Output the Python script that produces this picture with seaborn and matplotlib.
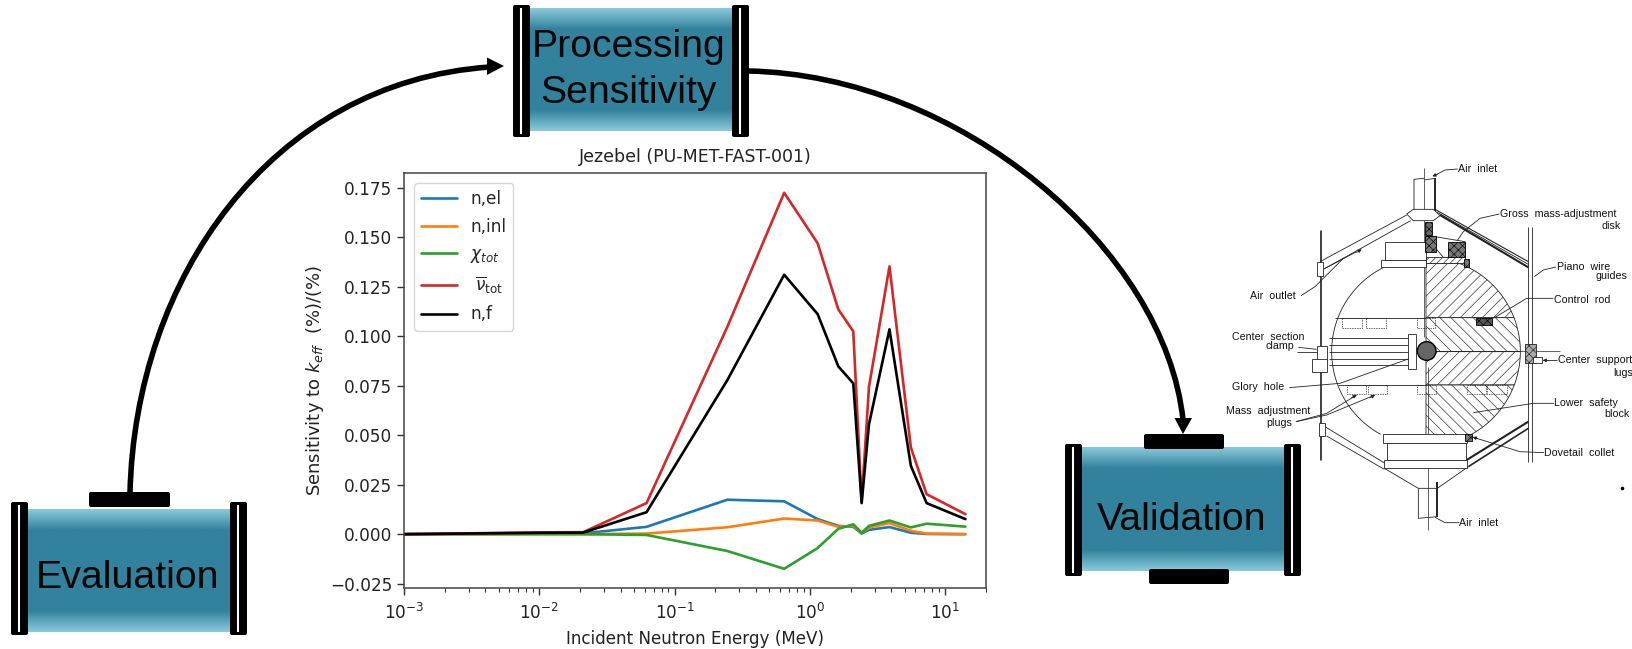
"""Evaluation / processing sensitivity / validation workflow with the Jezebel sensitivity chart."""
import numpy as np
import pandas as pd
import matplotlib
matplotlib.use("Agg")
import matplotlib.pyplot as plt
from matplotlib.colors import LinearSegmentedColormap
from matplotlib.patches import FancyBboxPatch, PathPatch, Polygon, Rectangle, Circle
from matplotlib.path import Path
import seaborn as sns

# ── Chart data ────────────────────────────────────────────────────────────────
energy = [0.001, 0.01, 0.0211, 0.062, 0.245, 0.645, 1.14, 1.62, 2.09, 2.41, 2.73, 3.87, 5.57, 7.28, 14.1]

n_el   = [0.0, 0.0003, 0.0004, 0.0037, 0.0174, 0.0166, 0.0076, 0.0042, 0.0037, 0.0003, 0.0022, 0.0036, 0.0007, 0.0001, 0.0]
n_inl  = [0.0, 0.0, 0.0, 0.0003, 0.0035, 0.0079, 0.0069, 0.0037, 0.0042, 0.0007, 0.0034, 0.0056, 0.0017, 0.0003, 0.0]
chi    = [0.0, 0.0, 0.0, -0.0004, -0.0085, -0.0175, -0.0070, 0.0027, 0.0050, 0.0007, 0.0042, 0.0069, 0.0034, 0.0053, 0.0038]
nubar  = [0.0, 0.0009, 0.0010, 0.0157, 0.1047, 0.1725, 0.1470, 0.1136, 0.1025, 0.0165, 0.0744, 0.1353, 0.0438, 0.0202, 0.0101]
n_f    = [0.0, 0.0007, 0.0008, 0.0111, 0.0778, 0.1311, 0.1112, 0.0848, 0.0762, 0.0157, 0.0555, 0.1035, 0.0345, 0.0157, 0.0076]

labels  = ["n,el", "n,inl", r"$\chi_{tot}$", r" $\overline{\nu}_{\mathrm{tot}}$", "n,f"]
colours = ["#1f77b4", "#ff7f0e", "#2ca02c", "#d62728", "#000000"]

df = pd.concat([
    pd.DataFrame({"energy": energy, "sens": vals, "reaction": lab})
    for vals, lab in zip([n_el, n_inl, chi, nubar, n_f], labels)
])

# ── Figure ────────────────────────────────────────────────────────────────────
W, H = 1633, 649
sns.set_style("ticks")
plt.rcParams.update({"font.size": 12.2, "hatch.linewidth": 0.45})

fig = plt.figure(figsize=(W / 100, H / 100), dpi=100, facecolor="white")

# overlay in pixel coordinates for the workflow diagram
bg = fig.add_axes([0, 0, 1, 1], zorder=0)
bg.set_axis_off()

BLUE = LinearSegmentedColormap.from_list(
    "pipe", [(0, "#8ccadb"), (0.17, "#32829d"), (0.83, "#32829d"), (1, "#8ccadb")])
grad = np.linspace(0, 1, 256).reshape(-1, 1)


def block(x0, y0, x1, y1):
    bg.add_patch(FancyBboxPatch((x0 + 2, y0 + 2), x1 - x0 - 4, y1 - y0 - 4,
                                boxstyle="round,pad=2,rounding_size=2",
                                fc="black", ec="none", zorder=3))


def pipe(x0, x1, y0, y1, capy0, capy1, name, tx, ty):
    bg.imshow(grad, cmap=BLUE, extent=(x0, x1, y1, y0), aspect="auto", zorder=1)
    for cx0, cx1 in [(x0 - 17, x0), (x1, x1 + 17)]:
        block(cx0, capy0, cx1, capy1)
        mid = (cx0 + cx1) / 2
        bg.plot([mid, mid], [capy0 + 3, capy1 - 3], color="white", lw=1.5,
                solid_capstyle="butt", zorder=4)
    bg.text(tx, ty, name, family="Liberation Sans", fontsize=28.3, color="#050505",
            ha="center", va="center", linespacing=1.34, zorder=5)


pipe(530, 732, 8, 131, 5, 137, "Processing\nSensitivity", 629, 70)
pipe(28, 230, 509, 632, 502, 635, "Evaluation", 128, 578)
pipe(1082, 1284, 447, 571, 444, 576, "Validation", 1182, 520)
block(89, 492, 170, 507)
block(1144, 434, 1224, 449)
block(1149, 569, 1229, 584)


def curve(p0, p1, p2, p3):
    path = Path([p0, p1, p2, p3], [Path.MOVETO, Path.CURVE4, Path.CURVE4, Path.CURVE4])
    bg.add_patch(PathPatch(path, fc="none", ec="black", lw=4.0, capstyle="butt", zorder=2))


curve((130, 493), (135, 280), (270, 82), (490, 67))
bg.add_patch(Polygon([(504, 66), (487, 57.5), (487, 75)], fc="black", ec="none", zorder=3))
curve((748, 71), (960, 75), (1165, 250), (1183, 420))
bg.add_patch(Polygon([(1183, 434), (1174.5, 418), (1192, 418)], fc="black", ec="none", zorder=3))


# ── Reactor cross-section, coordinates on a 3x grid anchored at (1200, 150) ───
def sx(v):
    return 1200 + np.asarray(v, dtype=float) / 3


def sy(v):
    return 150 + np.asarray(v, dtype=float) / 3


def ln(xs, ys, lw=0.6, **kw):
    bg.plot(sx(xs), sy(ys), color="#222222", lw=lw, solid_capstyle="butt", zorder=2, **kw)


def box(x0, y0, x1, y1, fc="white", **kw):
    bg.add_patch(Rectangle((sx(x0), sy(y0)), (x1 - x0) / 3, (y1 - y0) / 3, fc=fc,
                           ec=kw.pop("ec", "#222222"), lw=kw.pop("lw", 0.6), zorder=kw.pop("zorder", 2.2), **kw))


def arrow(x, y, dx, dy):
    bg.annotate("", xy=(sx(x), sy(y)), xytext=(sx(x + dx), sy(y + dy)),
                arrowprops=dict(arrowstyle="-|>", color="#222222", lw=0.6, mutation_scale=5,
                                shrinkA=0, shrinkB=0), zorder=3)


CX, CY, R = 678, 605, 283
for y0, y1, h in [(340, 503, "///"), (503, 605, "\\\\\\"), (605, 705, "///"), (705, 860, "\\\\\\")]:
    yy = np.linspace(y0, y1, 40)
    xx = CX + np.sqrt(R ** 2 - (yy - CY) ** 2)
    pts = np.column_stack([sx(np.r_[CX, xx, CX]), sy(np.r_[y0, yy, y1])])
    bg.add_patch(Polygon(pts, fc="white", ec="#222222", lw=0.6, hatch=h, zorder=2))

yy = np.linspace(352, 853, 80)
ln(CX - np.sqrt(R ** 2 - (yy - CY) ** 2), yy)
ln([405, 678], [503, 503]); ln([415, 678], [705, 705])

# centre line and tubes
ln([672, 672], [55, 560], lw=0.5); ln([684, 684], [650, 1140], lw=0.5)
ln([642, 642, 672], [185, 88, 85]); ln([705, 705], [85, 190], lw=1.4); ln([672, 705], [90, 85])
ln([655, 655, 712], [1015, 1105, 1100]); ln([712, 712], [995, 1100], lw=1.4)

# hub, struts, cone
bg.add_patch(Polygon(np.column_stack([sx([620, 640, 700, 720, 700, 640]), sy([192, 178, 178, 197, 212, 212])]),
                     fc="white", ec="#222222", lw=0.6, zorder=2.2))
ln([620, 360], [195, 335]); ln([632, 370], [212, 358])
ln([705, 985], [178, 335], lw=0.8); ln([720, 985], [195, 352], lw=1.5); ln([710, 985], [186, 343], lw=0.6)
ln([375, 555], [830, 940]); ln([380, 553], [858, 958])
ln([800, 985], [930, 815], lw=1.5); ln([805, 985], [950, 835], lw=1.2)
ln([553, 655, 712, 805], [955, 1015, 1015, 950])
ln([360, 360], [240, 930], lw=0.6); ln([364, 364], [240, 930], lw=0.6)
ln([983, 983], [232, 935], lw=0.6); ln([995, 995], [232, 935], lw=0.6)

# top and bottom blocks
box(555, 275, 678, 330); box(542, 330, 678, 352)
box(678, 322, 795, 340, hatch="/////")
bg.add_patch(Polygon(np.column_stack([sx([678, 705, 795, 795, 730]), sy([260, 260, 275, 322, 322])]),
                     fc="white", ec="#222222", lw=0.6, zorder=2.2))
box(675, 215, 697, 255, fc="#666666", hatch="xxxx", ec="black")
box(675, 258, 708, 305, fc="#777777", hatch="xxxx", ec="black")
box(745, 275, 795, 322, fc="#777777", hatch="xxxx", ec="black")
box(793, 328, 808, 352, fc="#777777", hatch="xxxx", ec="black")
box(548, 853, 800, 878); box(562, 878, 797, 930); box(552, 930, 800, 955)
ln([680, 797], [898, 898], lw=1.2); ln([680, 797], [922, 922], lw=1.2)
box(795, 853, 815, 872, fc="#777777", hatch="xxxx", ec="black")
box(828, 505, 877, 525, fc="#555555", hatch="xxxx", ec="black")

# wire clamps and centre section
box(352, 335, 370, 378); box(358, 818, 376, 858)
box(350, 588, 380, 630); box(335, 628, 380, 665)
box(625, 553, 648, 657)
for yl in [563, 585, 607, 626, 645]:
    ln([388, 625], [yl, yl])
ln([290, 350], [607, 607]); ln([648, 1080], [603, 603], lw=0.5)
box(975, 582, 1007, 640, fc="#aaaaaa", hatch="xxxx")
box(1000, 622, 1025, 640)
bg.add_patch(Circle((sx(680), sy(603)), 28 / 3, fc="#666666", ec="black", lw=1.0, zorder=3))

# dashed plugs
for x0, y0, x1, y1 in [(425, 505, 485, 535), (497, 505, 557, 535), (650, 505, 706, 535),
                       (440, 705, 497, 733), (503, 705, 560, 733), (650, 705, 708, 733),
                       (800, 705, 858, 733), (860, 705, 920, 733)]:
    box(x0, y0, x1, y1, fc="none", ls=(0, (2, 1.5)), lw=0.5, zorder=3)

# leaders
ln([773, 735, 705], [57, 60, 76]); arrow(697, 79, 15, -6)
ln([898, 840, 790, 738], [192, 205, 245, 322])
ln([1068, 1030, 1003], [351, 360, 380])
ln([1060, 980, 880], [445, 445, 505])
ln([1072, 1030], [631, 631]); arrow(1028, 631, 15, 0)
ln([1062, 1000, 820], [760, 760, 788])
ln([1032, 960, 820], [908, 905, 862]); arrow(818, 861, 15, 5)
ln([778, 735, 705], [1118, 1118, 1102])
ln([303, 345, 430], [437, 410, 325]); arrow(485, 298, -15, 9); ln([375, 470], [355, 305])
ln([295, 350], [592, 598])
ln([268, 420, 650], [713, 700, 618])
ln([288, 380, 470], [815, 790, 735]); ln([288, 380, 525], [815, 795, 735])
arrow(470, 735, -15, 8); arrow(525, 735, -15, 8)

sch_labels = [
    ("Air  inlet", 775, 57, "left"), ("Gross  mass-adjustment", 900, 192, "left"), ("disk", 1262, 227, "right"),
    ("Piano  wire", 1070, 351, "left"), ("guides", 1282, 379, "right"), ("Control  rod", 1062, 450, "left"),
    ("Center  support", 1073, 631, "left"), ("lugs", 1300, 668, "right"), ("Lower  safety", 1063, 758, "left"),
    ("block", 1288, 793, "right"), ("Dovetail  collet", 1033, 908, "left"), ("Air  inlet", 778, 1118, "left"),
    ("Air  outlet", 150, 437, "left"), ("Center  section", 95, 560, "left"), ("clamp", 198, 588, "left"),
    ("Glory  hole", 95, 712, "left"), ("Mass  adjustment", 78, 782, "left"), ("plugs", 200, 818, "left"),
]
for s, x, y, ha in sch_labels:
    bg.text(sx(x), sy(y), s, family="Liberation Sans", fontsize=7.7, ha=ha, va="center", color="#111111", zorder=5)
bg.plot(sx(1265), sy(1015), marker="o", ms=1.6, color="black", zorder=5)

bg.set_xlim(0, W)
bg.set_ylim(H, 0)

# ── Sensitivity chart ─────────────────────────────────────────────────────────
ax = fig.add_axes([404 / W, (H - 588) / H, 582 / W, 415 / H], zorder=1)
sns.lineplot(data=df, x="energy", y="sens", hue="reaction", hue_order=labels, palette=colours,
             sort=False, errorbar=None, linewidth=1.9, ax=ax)
ax.set_xscale("log")
ax.set_xlim(1e-3, 20)
ax.set_ylim(-0.0272, 0.1825)
ax.set_yticks(np.arange(-0.025, 0.176, 0.025))
ax.set_yticklabels(["\N{MINUS SIGN}0.025", "0.000", "0.025", "0.050", "0.075", "0.100", "0.125", "0.150", "0.175"])
ax.set_title("Jezebel (PU-MET-FAST-001)", fontsize=12.5, color="#222222", pad=8)
ax.set_xlabel("Incident Neutron Energy (MeV)", fontsize=12.1, color="#222222", labelpad=5)
ax.set_ylabel(r"Sensitivity to $k_{eff}$  (%)/(%)", fontsize=13, color="#222222", labelpad=3)
ax.tick_params(axis="both", which="major", labelsize=12.2, length=5, width=1, color="#333333", labelcolor="#222222")
ax.tick_params(axis="x", which="major", pad=5.5)
ax.tick_params(axis="x", which="minor", length=3, width=0.8, color="#333333")
for side in ax.spines.values():
    side.set_visible(True)
    side.set_color("#444444")
    side.set_linewidth(1.1)
ax.legend(loc="upper left", title=None, fontsize=12.2, frameon=True, handlelength=2.13,
          labelspacing=0.56, borderpad=0.42, handletextpad=0.75, borderaxespad=0.6)

fig.savefig("out.png", dpi=100)
